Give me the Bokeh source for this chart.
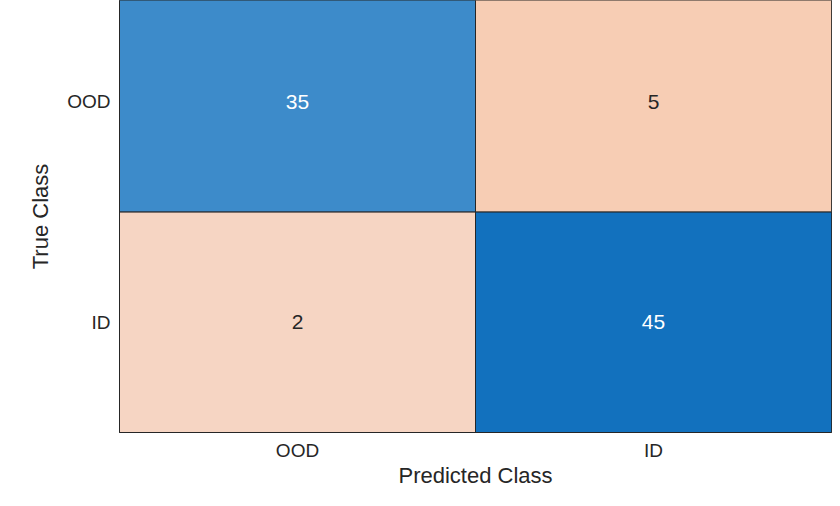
from bokeh.plotting import figure
from bokeh.models import ColumnDataSource, Range1d, FixedTicker
from bokeh.core.properties import value
from bokeh.embed import file_html
from bokeh.resources import INLINE

# Data
classes = ["OOD", "ID"]            # order of the classes (top row / left column first)
true_class = ["OOD", "OOD", "ID", "ID"]
pred_class = ["OOD", "ID", "OOD", "ID"]
counts = [35, 5, 2, 45]

# Styles
cell_colors = ["#3D8BCA", "#F7CDB4", "#F6D5C3", "#1271BE"]
text_colors = ["#FFFFFF", "#262626", "#262626", "#FFFFFF"]

FONT = "Liberation Sans"
n = len(classes)
# column index from left, row position from bottom
xpos = [classes.index(c) + 0.5 for c in pred_class]
ypos = [n - 1 - classes.index(c) + 0.5 for c in true_class]

src = ColumnDataSource(dict(x=xpos, y=ypos, count=[str(c) for c in counts],
                            color=cell_colors, tcolor=text_colors))

p = figure(width=832, height=490, output_backend="svg", toolbar_location=None,
           x_range=Range1d(0, n), y_range=Range1d(0, n - 0.04),
           min_border_left=119, min_border_right=1, min_border_top=0, min_border_bottom=40)

p.rect(x="x", y="y", width=1, height=1, source=src, fill_color="color",
       line_color="#262626", line_width=1)
p.text(x="x", y="y", text="count", source=src, text_color="tcolor",
       text_align="center", text_baseline="middle", text_font=value(FONT),
       text_font_size="21px")

p.grid.visible = False
p.outline_line_color = "#262626"
p.background_fill_color = "white"
p.border_fill_color = "white"

p.xaxis.ticker = FixedTicker(ticks=[i + 0.5 for i in range(n)])
p.xaxis.major_label_overrides = {i + 0.5: c for i, c in enumerate(classes)}
p.yaxis.ticker = FixedTicker(ticks=[n - 1 - i + 0.5 for i in range(n)])
p.yaxis.major_label_overrides = {n - 1 - i + 0.5: c for i, c in enumerate(classes)}

for ax in (p.xaxis, p.yaxis):
    ax.major_tick_line_color = None
    ax.minor_tick_line_color = None
    ax.major_tick_out = 0
    ax.major_tick_in = 0
    ax.minor_tick_out = 0
    ax.minor_tick_in = 0
    ax.axis_line_color = "#262626"
    ax.major_label_text_font = FONT
    ax.major_label_text_font_size = "19px"
    ax.major_label_text_color = "#262626"
    ax.axis_label_text_font = FONT
    ax.axis_label_text_font_size = "22px"
    ax.axis_label_text_font_style = "normal"
    ax.axis_label_text_color = "#262626"

p.xaxis.axis_label = "Predicted Class"
p.yaxis.axis_label = "True Class"
p.xaxis.major_label_standoff = 7
p.yaxis.major_label_standoff = 9
p.yaxis.major_label_orientation = "horizontal"
p.xaxis.axis_label_standoff = -1
p.yaxis.axis_label_standoff = 11

open("out.html", "w").write(file_html(p, INLINE))
